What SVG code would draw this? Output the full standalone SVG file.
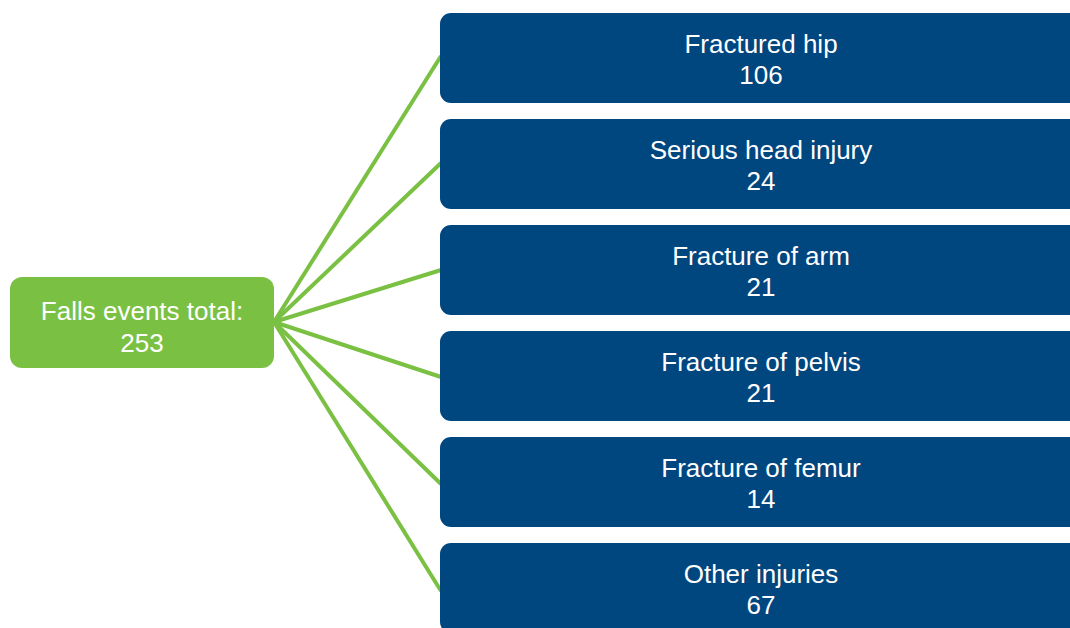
<svg xmlns="http://www.w3.org/2000/svg" width="1070" height="628" viewBox="0 0 1070 628">
<style>
.blue{fill:#00467f}
.green{fill:#7ac143}
.t{font-family:"Liberation Sans",Arial,sans-serif;font-size:26px;fill:#ffffff;text-anchor:middle}
.c{stroke:#7ac143;stroke-width:4;fill:none}
</style>
<rect width="1070" height="628" fill="#ffffff"/>
<g id="connectors">
<line class="c" x1="274" y1="322" x2="441" y2="56"/>
<line class="c" x1="274" y1="322" x2="441" y2="163"/>
<line class="c" x1="274" y1="322" x2="441" y2="270"/>
<line class="c" x1="274" y1="322" x2="441" y2="377"/>
<line class="c" x1="274" y1="322" x2="441" y2="484"/>
<line class="c" x1="274" y1="322" x2="441" y2="591"/>
</g>
<g id="root">
<rect class="green" x="10" y="277" width="264" height="91" rx="12"/>
<text class="t" x="142" y="320">Falls events total:</text>
<text class="t" x="142" y="352">253</text>
</g>
<g id="n1">
<rect class="blue" x="440" y="13" width="650" height="90" rx="11"/>
<text class="t" x="761" y="53">Fractured hip</text>
<text class="t" x="761" y="84">106</text>
</g>
<g id="n2">
<rect class="blue" x="440" y="119" width="650" height="90" rx="11"/>
<text class="t" x="761" y="159">Serious head injury</text>
<text class="t" x="761" y="190">24</text>
</g>
<g id="n3">
<rect class="blue" x="440" y="225" width="650" height="90" rx="11"/>
<text class="t" x="761" y="265">Fracture of arm</text>
<text class="t" x="761" y="296">21</text>
</g>
<g id="n4">
<rect class="blue" x="440" y="331" width="650" height="90" rx="11"/>
<text class="t" x="761" y="371">Fracture of pelvis</text>
<text class="t" x="761" y="402">21</text>
</g>
<g id="n5">
<rect class="blue" x="440" y="437" width="650" height="90" rx="11"/>
<text class="t" x="761" y="477">Fracture of femur</text>
<text class="t" x="761" y="508">14</text>
</g>
<g id="n6">
<rect class="blue" x="440" y="543" width="650" height="90" rx="11"/>
<text class="t" x="761" y="583">Other injuries</text>
<text class="t" x="761" y="614">67</text>
</g>
</svg>
